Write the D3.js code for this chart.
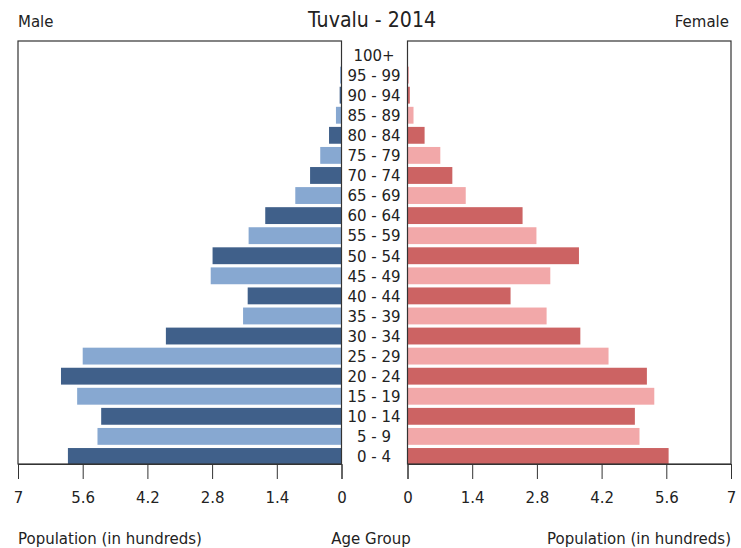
<!DOCTYPE html>
<html><head><meta charset="utf-8">
<script src="https://cdn.jsdelivr.net/npm/d3@7"></script>
<style>body{margin:0;background:#fff}svg{display:block}text{font-family:"DejaVu Sans",sans-serif;fill:#222}</style>
</head><body><svg id="c" width="741" height="548"></svg>
<script>
const ageGroups = ["100+","95 - 99","90 - 94","85 - 89","80 - 84","75 - 79","70 - 74","65 - 69","60 - 64","55 - 59","50 - 54","45 - 49","40 - 44","35 - 39","30 - 34","25 - 29","20 - 24","15 - 19","10 - 14","5 - 9","0 - 4"];
const maleValues = [0,0.03,0.04,0.12,0.27,0.46,0.68,1.0,1.65,2.01,2.79,2.83,2.03,2.13,3.8,5.6,6.07,5.72,5.2,5.28,5.92];
const femaleValues = [0,0.03,0.05,0.13,0.37,0.71,0.97,1.26,2.49,2.79,3.71,3.09,2.23,3.01,3.74,4.35,5.18,5.34,4.92,5.02,5.65];
const tickValues = [0,1.4,2.8,4.2,5.6,7];
const tickLabels = ["0","1.4","2.8","4.2","5.6","7"];

(function(){
const svg = d3.select("#c");
const yTop = 41, yBot = 464;
const L0 = 18, L1 = 341.5, R0 = 407.5, R1 = 731;
const y = d3.scaleBand().domain(ageGroups).range([45, 466.5]).paddingInner(0.16).paddingOuter(0.08);
const xl = d3.scaleLinear().domain([7,0]).range([L0, L1]);
const xr = d3.scaleLinear().domain([0,7]).range([R0, R1]);
const maleCol = ["#40608a","#87a8d1"];
const femCol = ["#cc6363","#f2a8a9"];
const SY = 1.1;

svg.append("g").selectAll("rect").data(ageGroups).join("rect")
  .attr("x", (d,i)=>xl(maleValues[i])).attr("y", d=>y(d))
  .attr("width", (d,i)=>xl(0)-xl(maleValues[i])).attr("height", y.bandwidth())
  .attr("fill", (d,i)=>maleCol[i%2]);
svg.append("g").selectAll("rect").data(ageGroups).join("rect")
  .attr("x", xr(0)).attr("y", d=>y(d))
  .attr("width", (d,i)=>xr(femaleValues[i])-xr(0)).attr("height", y.bandwidth())
  .attr("fill", (d,i)=>femCol[i%2]);

[[L0,L1],[R0,R1]].forEach(([a,b])=>{
  svg.append("rect").attr("x",a).attr("y",yTop).attr("width",b-a).attr("height",yBot-yTop)
    .attr("fill","none").attr("stroke","#333").attr("stroke-width",1.2);
});

function axis(scale){
  return d3.axisBottom(scale).tickValues(tickValues).tickSize(15).tickPadding(12)
    .tickFormat(d=>tickLabels[tickValues.indexOf(d)]);
}
[xl,xr].forEach(s=>{
  const g = svg.append("g").attr("transform",`translate(0,${yBot})`).call(axis(s));
  g.select(".domain").attr("stroke","#333");
  g.selectAll(".tick line").attr("stroke","#333");
  g.selectAll(".tick text").attr("font-size",15).attr("font-family","DejaVu Sans").attr("fill","#222")
    .attr("transform",`scale(1,${SY})`).attr("y", 27/SY).attr("dy","0.71em");
});

function label(x, yy, txt, size, anchor, dy){
  svg.append("text").attr("transform",`translate(${x},${yy}) scale(1,${SY})`)
    .attr("text-anchor",anchor).attr("font-size",size).attr("dy",dy||0).text(txt);
}
ageGroups.forEach(d=>label(374, y(d)+y.bandwidth()/2, d, 15, "middle", "0.35em"));

label(372, 27, "Tuvalu - 2014", 19, "middle");
label(18, 27, "Male", 15, "start");
label(729, 27, "Female", 15, "end");
label(18, 544, "Population (in hundreds)", 15, "start");
label(371, 544, "Age Group", 15, "middle");
label(731, 544, "Population (in hundreds)", 15, "end");
})();
</script></body></html>
